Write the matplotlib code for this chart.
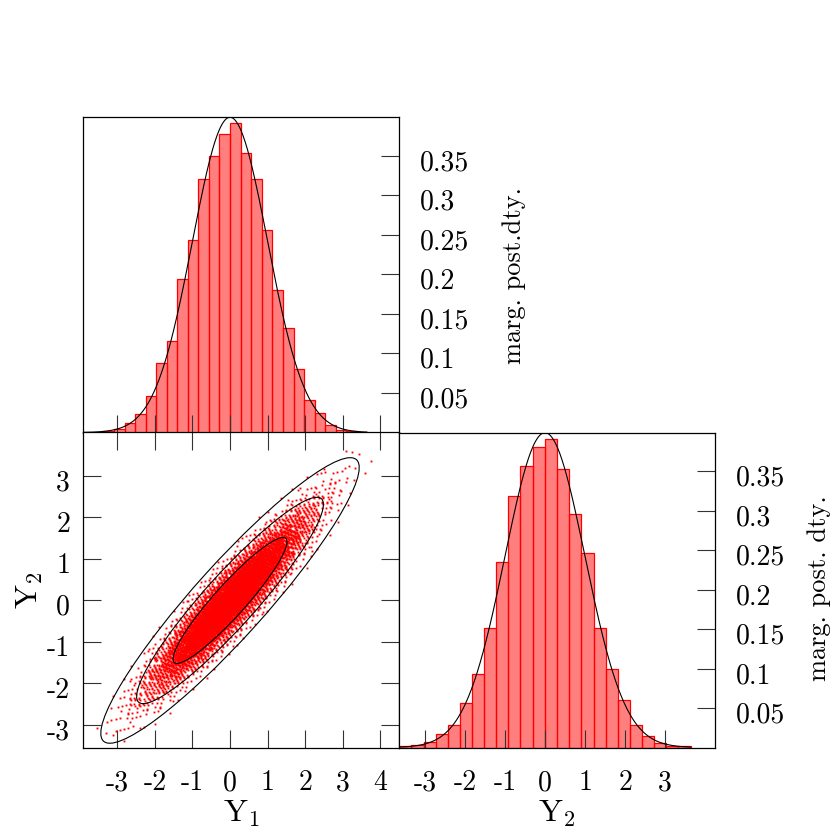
import numpy as np
import matplotlib.pyplot as plt
from matplotlib.patches import Ellipse
from matplotlib.transforms import ScaledTranslation

plt.rcParams['font.family'] = ['cmr10', 'DejaVu Serif']
plt.rcParams['mathtext.fontset'] = 'cm'
plt.rcParams['axes.unicode_minus'] = False

# marginal histogram of Y1 (density per bin)
y1_edges = [-3.37, -3.08, -2.80, -2.52, -2.24, -1.96, -1.68, -1.40, -1.12, -0.84, -0.56, -0.28, 0.0,
            0.28, 0.56, 0.84, 1.13, 1.40, 1.69, 1.97, 2.25, 2.53, 2.81, 3.09, 3.37, 3.64]
y1_dens = [0.002, 0.004, 0.012, 0.023, 0.046, 0.088, 0.116, 0.194, 0.243, 0.321, 0.350, 0.378, 0.392,
           0.354, 0.321, 0.256, 0.180, 0.132, 0.080, 0.041, 0.025, 0.009, 0.003, 0.002, 0.001]

# marginal histogram of Y2, bottom-right panel
y2_edges = [-3.645, -3.346, -3.03, -2.73, -2.42, -2.11, -1.81, -1.515, -1.215, -0.916, -0.616, -0.308, 0.0,
            0.308, 0.608, 0.907, 1.215, 1.515, 1.814, 2.122, 2.422, 2.73, 3.03, 3.33, 3.637]
y2_dens = [0.002, 0.003, 0.007, 0.017, 0.028, 0.057, 0.093, 0.152, 0.235, 0.319, 0.357, 0.381, 0.391,
           0.353, 0.296, 0.246, 0.151, 0.100, 0.060, 0.028, 0.015, 0.006, 0.002, 0.002]

# fitted posterior: means, sds, correlation
mu = [0.0, 0.0]
sd = [1.0, 1.0]
rho = 0.93
# contour levels (chi2, 2 dof) for 68.3 / 95.4 / 99.7 %
levels = [2.30, 6.18, 11.83]

# joint sample, binned in rotated coordinates u = (Y1+Y2)/sqrt2 (along the cloud)
# and v = (Y2-Y1)/sqrt2 (across it)
u_edges = [-5.2, -4.8, -4.4, -4.0, -3.6, -3.2, -2.8, -2.4, -2.0, -1.6, -1.2, -0.8, -0.4, 0.0,
           0.4, 0.8, 1.2, 1.6, 2.0, 2.4, 2.8, 3.2, 3.6, 4.0, 4.4, 4.8, 5.2]
u_counts = [1, 4, 10, 22, 44, 82, 142, 232, 348, 484, 621, 732, 795,
            795, 732, 621, 484, 348, 230, 142, 82, 44, 22, 10, 5, 3]
v_edges = [-1.0, -0.9, -0.8, -0.7, -0.6, -0.5, -0.4, -0.3, -0.2, -0.1, 0.0,
           0.1, 0.2, 0.3, 0.4, 0.5, 0.6, 0.7, 0.8, 0.9, 1.0]
v_share = [0.0006, 0.0015, 0.004, 0.009, 0.019, 0.036, 0.062, 0.093, 0.122, 0.140,
           0.140, 0.122, 0.093, 0.062, 0.036, 0.019, 0.009, 0.004, 0.0015, 0.0006]

y1_ticks = [-3, -2, -1, 0, 1, 2, 3, 4]
y2_ticks = [-3, -2, -1, 0, 1, 2, 3]
dens_ticks = [0.05, 0.1, 0.15, 0.2, 0.25, 0.3, 0.35]


def tick_text(v):
    return ('%g' % v)


def spread_cloud(ucount, share, ue, ve):
    # lay each cell's points out on a plastic-number (R2) sequence, no randomness
    g = 1.32471795724474602596
    a1, a2 = 1.0 / g, 1.0 / g ** 2
    cum = np.concatenate([[0.0], np.cumsum(share) / np.sum(share)])
    us, vs = [], []
    k = 0
    for i, n_row in enumerate(ucount):
        cells = np.diff(np.round(cum * n_row)).astype(int)
        for j, n in enumerate(cells):
            for _ in range(n):
                k += 1
                s = (0.5 + a1 * k) % 1.0
                t = (0.5 + a2 * k) % 1.0
                us.append(ue[i] + (ue[i + 1] - ue[i]) * s)
                vs.append(ve[j] + (ve[j + 1] - ve[j]) * t)
    us, vs = np.array(us), np.array(vs)
    return (us - vs) / np.sqrt(2), (us + vs) / np.sqrt(2)


def box(x0, y0, x1, y1):
    return [x0 / 830, 1 - y1 / 830, (x1 - x0) / 830, (y1 - y0) / 830]


def frame(ax):
    ax.tick_params(direction='in', length=13, width=0.8, color='#333333', labelsize=20)
    for s in ax.spines.values():
        s.set_linewidth(0.9)


def drop_ylabels(ax):
    # labels sit a little below their tick, as in the original
    off = ScaledTranslation(0, -7.3 / 100, ax.figure.dpi_scale_trans)
    for lab in ax.get_yticklabels():
        lab.set_va('center')
        lab.set_transform(lab.get_transform() + off)


def hist_panel(ax, edges, dens, m, s, xlim, xt):
    edges = np.array(edges)
    ax.bar(edges[:-1], dens, width=np.diff(edges), align='edge',
           facecolor=(1, 0, 0, 0.5), edgecolor='red', linewidth=0.9)
    xs = np.linspace(xlim[0], edges[-1], 400)
    ax.plot(xs, np.exp(-0.5 * ((xs - m) / s) ** 2) / (s * np.sqrt(2 * np.pi)), color='black', lw=0.8)
    ax.set_xlim(xlim)
    ax.set_ylim(0, 0.3989)
    ax.set_xticks(xt)
    ax.set_yticks(dens_ticks, [tick_text(v) for v in dens_ticks])
    frame(ax)
    ax.tick_params(axis='y', left=False, right=True, labelleft=False, labelright=True, pad=15)


fig = plt.figure(figsize=(8.3, 8.3), dpi=100)

ax_h1 = fig.add_axes(box(83.3, 117.3, 399.3, 432.5))
hist_panel(ax_h1, y1_edges, y1_dens, mu[0], sd[0], (-3.905, 4.506), y1_ticks)
ax_h1.tick_params(axis='x', labelbottom=False)
drop_ylabels(ax_h1)

ax_sc = fig.add_axes(box(83.3, 432.0, 399.3, 747.7))
px, py = spread_cloud(u_counts, v_share, u_edges, v_edges)
ax_sc.plot(px, py, linestyle='none', marker='s', ms=1.35, mew=0, color='red')
for c in levels:
    ax_sc.add_patch(Ellipse((mu[0], mu[1]), 2 * np.sqrt(c * (1 + rho)), 2 * np.sqrt(c * (1 - rho)),
                            angle=45, fill=False, edgecolor='black', lw=0.8, zorder=3))
ax_sc.set_xlim(-3.905, 4.506)
ax_sc.set_ylim(-3.547, 4.058)
ax_sc.set_xticks(y1_ticks, [tick_text(v) for v in y1_ticks])
ax_sc.set_yticks(y2_ticks, [tick_text(v) for v in y2_ticks])
frame(ax_sc)
ax_sc.tick_params(top=True, right=True)
ax_sc.tick_params(axis='x', pad=16)
ax_sc.tick_params(axis='y', pad=9.5)
drop_ylabels(ax_sc)

ax_h2 = fig.add_axes(box(399.0, 432.7, 715.0, 747.5))
hist_panel(ax_h2, y2_edges, y2_dens, mu[1], sd[1], (-3.645, 4.245), y2_ticks)
ax_h2.set_xticks(y2_ticks, [tick_text(v) for v in y2_ticks])
ax_h2.tick_params(axis='x', pad=16)
drop_ylabels(ax_h2)

# axis titles
fig.text(241.3 / 830, 1 - 822 / 830, r'$\mathrm{Y}_1$', fontsize=23, ha='center', va='baseline')
fig.text(557 / 830, 1 - 822 / 830, r'$\mathrm{Y}_2$', fontsize=23, ha='center', va='baseline')
fig.text(30 / 830, 1 - 590 / 830, r'$\mathrm{Y}_2$', fontsize=23, ha='center', va='center', rotation=90)
fig.text(514 / 830, 1 - 275 / 830, 'marg. post.dty.', fontsize=19, ha='center', va='center', rotation=90)
fig.text(819 / 830, 1 - 588 / 830, 'marg. post. dty.', fontsize=19, ha='center', va='center', rotation=90)

fig.savefig('out.png', dpi=100)
